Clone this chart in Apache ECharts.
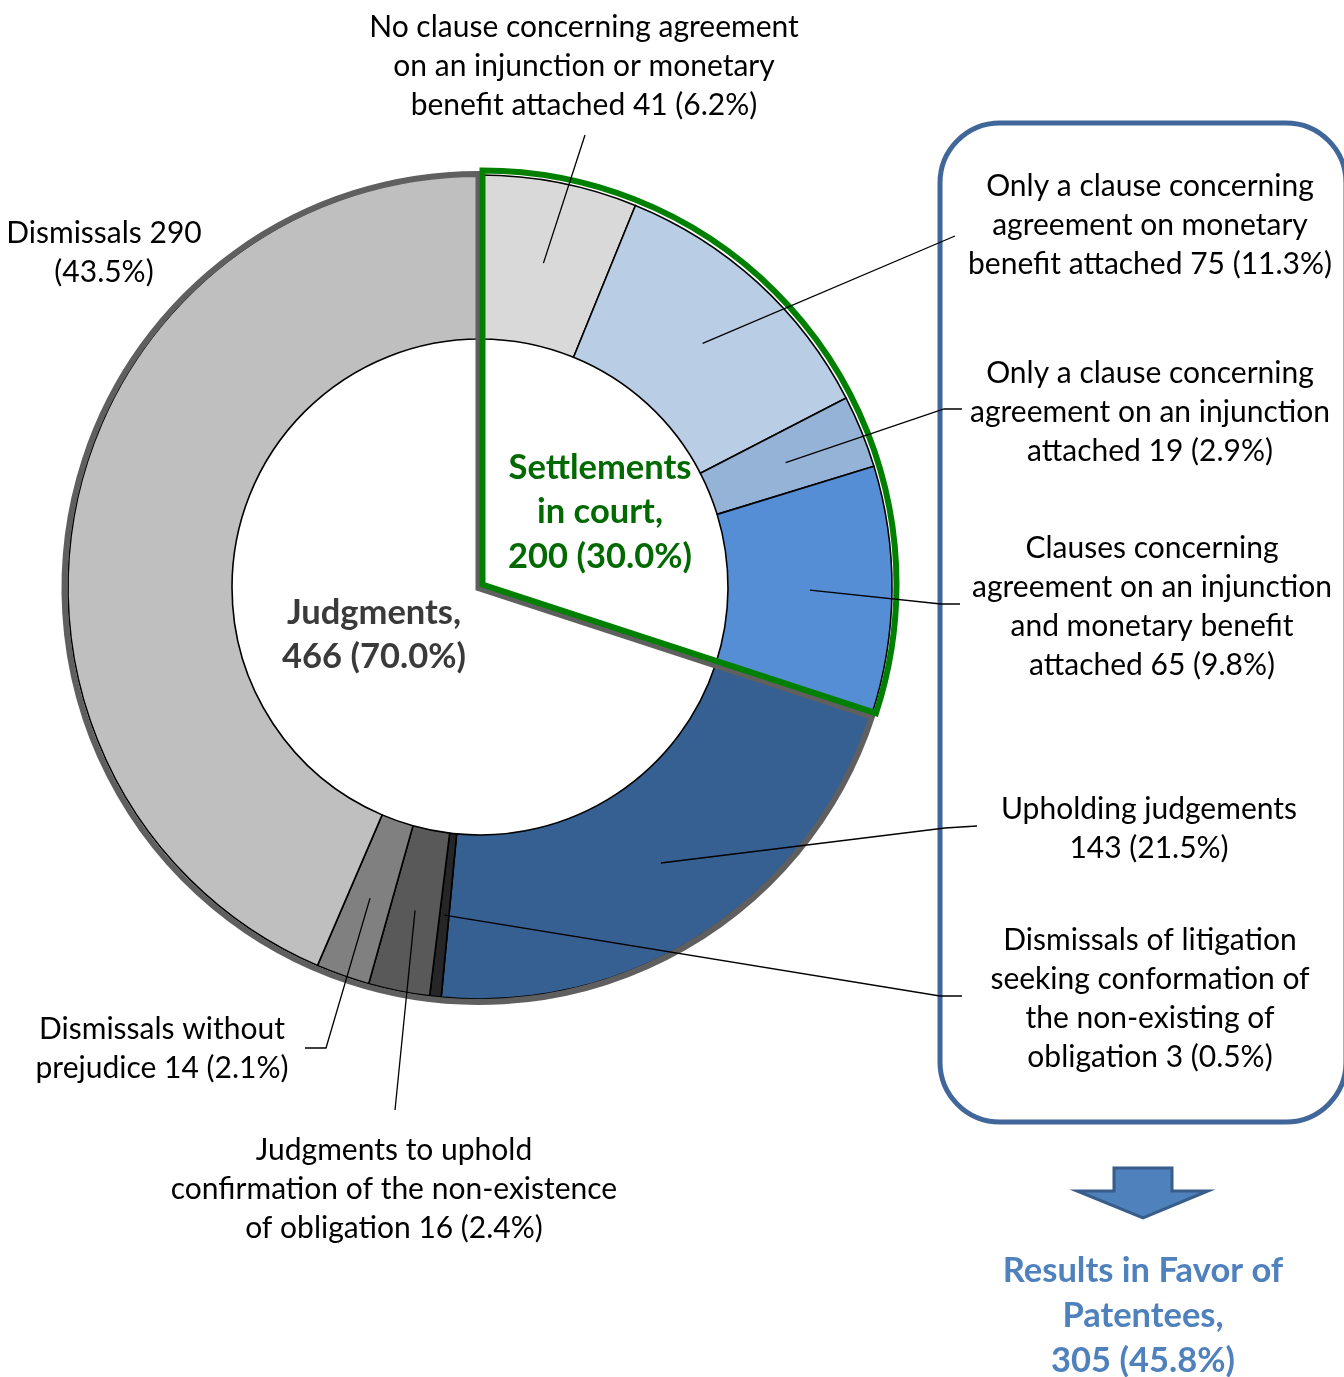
<!DOCTYPE html>
<html>
<head>
<meta charset="utf-8">
<title>Patent litigation outcomes</title>
<script src="https://cdn.jsdelivr.net/npm/echarts/dist/echarts.min.js"></script>
<style>
  html, body { margin: 0; padding: 0; background: #fff; }
  #chart { width: 1344px; height: 1377px; }
</style>
</head>
<body>
<div id="chart"></div>
<script>
// data
const categories = [
  'No clause concerning agreement\non an injunction or monetary\nbenefit attached',
  'Only a clause concerning\nagreement on monetary\nbenefit attached',
  'Only a clause concerning\nagreement on an injunction\nattached',
  'Clauses concerning\nagreement on an injunction\nand monetary benefit\nattached',
  'Upholding judgements',
  'Dismissals of litigation\nseeking conformation of\nthe non-existing of\nobligation',
  'Judgments to uphold\nconfirmation of the non-existence\nof obligation',
  'Dismissals without\nprejudice',
  'Dismissals'
]
const values = [41, 75, 19, 65, 143, 3, 16, 14, 290]
const valueBreaks = [' ', ' ', ' ', ' ', '\n', ' ', ' ', ' ', ' ']
const pctBreaks = [' ', ' ', ' ', ' ', ' ', ' ', ' ', ' ', '\n']
const sliceColors = ['#d9d9d9', '#b9cde5', '#95b3d7', '#558ed5', '#376092', '#262626', '#595959', '#808080', '#bfbfbf']

const groupNames = ['Settlements\nin court,', 'Judgments,']
const groupValues = [200, 466]
const favorName = 'Results in Favor of\nPatentees,'
const favorIndex = [1, 2, 3, 4, 5]

// layout
const CX = 480, CY = 587, R0 = 248, R1 = 412
const FONT = 'Lato, "Open Sans", sans-serif'

// label centers + leader line bend/end points
const labelPos = [
  { x: 584, y: 66, line: [[585, 135], [585, 135]] },
  { x: 1150, y: 225, line: [[955, 236], [955, 236]] },
  { x: 1150, y: 412, line: [[944, 409], [962, 409]] },
  { x: 1152, y: 607, line: [[941, 604], [960, 604]] },
  { x: 1149, y: 829, line: [[945, 828], [977, 826]] },
  { x: 1150, y: 999, line: [[940, 996], [962, 996]] },
  { x: 394, y: 1189, line: [[395, 1110], [395, 1110]] },
  { x: 162, y: 1049, line: [[326, 1048], [305, 1048]] },
  { x: 104, y: 253, line: null }
]
const groupLabelPos = [{ x: 600, y: 512 }, { x: 374, y: 635 }]

const total = values.reduce((a, b) => a + b, 0)
const pct = v => (v / total * 100).toFixed(1) + '%'

// leader line starts at the middle of the ring, on the slice bisector
const midAnchor = (i) => {
  let before = 0
  for (let k = 0; k < i; k++) before += values[k]
  const a = (before + values[i] / 2) / total * Math.PI * 2
  const r = (R0 + R1) / 2
  return [CX + r * Math.sin(a), CY - r * Math.cos(a)]
}

const favorValue = favorIndex.reduce((s, i) => s + values[i], 0)

const chart = echarts.init(document.getElementById('chart'))

// group outline series (transparent wedge, coloured border)
const outlineSeries = (groupIdx, color, textColor, center, z) => ({
  type: 'pie',
  silent: true,
  z: z,
  startAngle: 90,
  clockwise: true,
  center: center,
  radius: [0, 414],
  avoidLabelOverlap: false,
  labelLine: { show: false },
  label: {
    show: true,
    position: 'inside',
    fontFamily: FONT,
    fontWeight: 'bold',
    fontSize: 34.5,
    lineHeight: 44.5,
    color: textColor,
    formatter: p => groupNames[p.dataIndex] + '\n' + p.value + ' (' + pct(p.value) + ')'
  },
  labelLayout: p => ({
    x: groupLabelPos[p.dataIndex].x,
    y: groupLabelPos[p.dataIndex].y,
    align: 'center',
    verticalAlign: 'middle'
  }),
  data: groupValues.map((v, i) => ({
    value: v,
    name: groupNames[i],
    itemStyle: i === groupIdx
      ? { color: 'rgba(0,0,0,0)', borderColor: color, borderWidth: 6, borderJoin: 'miter' }
      : { color: 'rgba(0,0,0,0)', borderWidth: 0 },
    label: { show: i === groupIdx }
  }))
})

const option = {
  backgroundColor: '#fff',
  animation: false,
  series: [
    // the ring itself
    {
      type: 'pie',
      z: 2,
      silent: true,
      startAngle: 90,
      clockwise: true,
      center: [CX, CY],
      radius: [R0, R1],
      itemStyle: { borderColor: '#000', borderWidth: 1.6 },
      label: { show: false },
      labelLine: { show: false },
      data: values.map((v, i) => ({
        value: v,
        name: categories[i],
        itemStyle: { color: sliceColors[i] }
      }))
    },
    outlineSeries(1, '#5f5f5f', '#3a3a3a', [478.5, 588], 3),
    outlineSeries(0, '#008000', '#006a00', [482.5, 584.5], 4),
    // transparent copy on top, carries the labels so leader lines show over the slices
    {
      type: 'pie',
      z: 6,
      silent: true,
      startAngle: 90,
      clockwise: true,
      center: [CX, CY],
      radius: [R0, R1],
      avoidLabelOverlap: false,
      itemStyle: { color: 'rgba(0,0,0,0)', borderWidth: 0 },
      label: {
        show: true,
        position: 'outside',
        fontFamily: FONT,
        fontSize: 30,
        lineHeight: 39,
        color: '#000',
        formatter: p => categories[p.dataIndex] + valueBreaks[p.dataIndex] + p.value + pctBreaks[p.dataIndex] + '(' + pct(p.value) + ')'
      },
      labelLine: { show: true, smooth: false, lineStyle: { color: '#000', width: 1.3 } },
      labelLayout: p => {
        const lp = labelPos[p.dataIndex]
        const out = { x: lp.x, y: lp.y, align: 'center', verticalAlign: 'middle' }
        if (lp.line) out.labelLinePoints = [midAnchor(p.dataIndex), lp.line[0], lp.line[1]]
        return out
      },
      data: values.map((v, i) => ({
        value: v,
        name: categories[i],
        labelLine: { show: !!labelPos[i].line }
      }))
    }
  ],
  graphic: [
    {
      type: 'rect',
      z: 1,
      shape: { x: 940, y: 123, width: 406, height: 999, r: 60 },
      style: { fill: 'none', stroke: '#41679a', lineWidth: 5 }
    },
    {
      type: 'polygon',
      shape: {
        points: [[1114, 1168], [1172, 1168], [1172, 1191], [1208, 1191], [1143, 1218], [1077, 1191], [1114, 1191]]
      },
      style: { fill: '#4f81bd', stroke: '#385d8a', lineWidth: 3 }
    },
    {
      type: 'text',
      x: 1143,
      y: 1316,
      style: {
        text: favorName + '\n' + favorValue + ' (' + pct(favorValue) + ')',
        font: 'bold 34.5px ' + FONT,
        lineHeight: 45,
        fill: '#4f81bd',
        align: 'center',
        verticalAlign: 'middle'
      }
    }
  ]
}

chart.setOption(option)

window.addEventListener('resize', () => chart.resize())
</script>
</body>
</html>
